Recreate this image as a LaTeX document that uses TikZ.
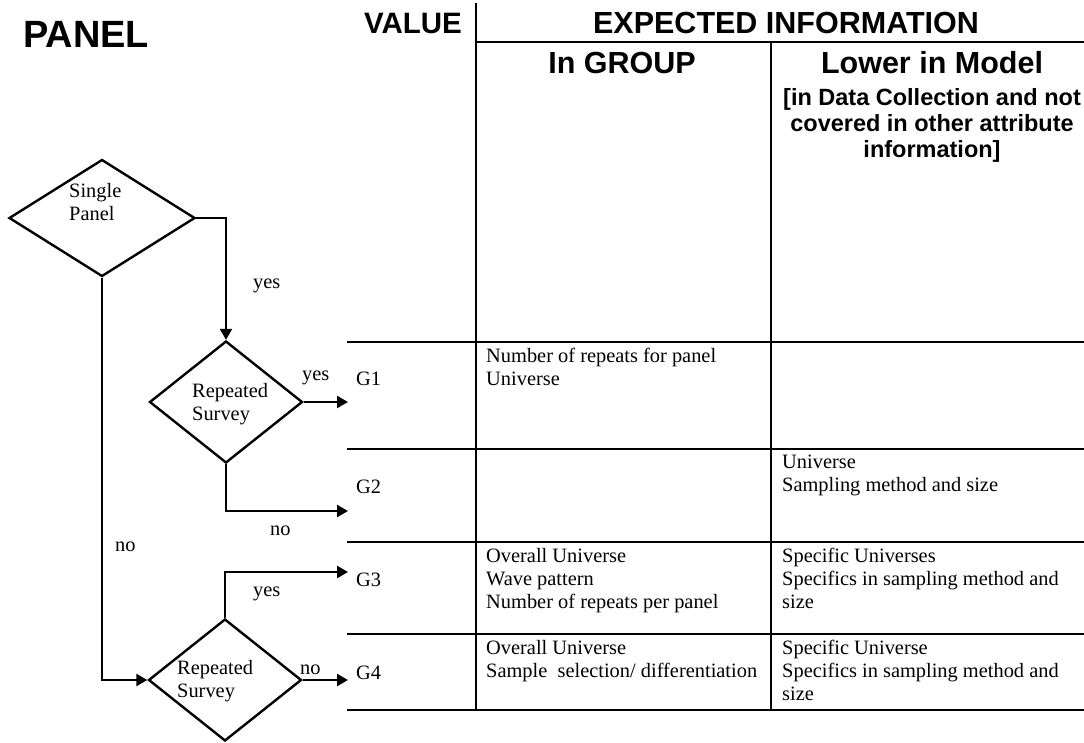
\documentclass[tikz,border=0pt]{standalone}
\usepackage{fontspec}
\setmainfont{Liberation Serif}
\newfontfamily\headfont{Liberation Sans}
\usetikzlibrary{shapes.geometric, arrows.meta, positioning}
\tikzset{
    dec/.style={diamond, draw, line width=2.4pt, inner sep=0pt, minimum width=153pt, minimum height=122pt},
    lbl/.style={anchor=base west, inner sep=0pt, font=\fontsize{20.4}{23}\selectfont},
    cell/.style={anchor=north west, inner sep=0pt, align=left, font=\fontsize{20.4}{23}\selectfont},
    head/.style={anchor=base, inner sep=0pt, font=\headfont\bfseries\fontsize{30.5}{34}\selectfont},
    arr/.style={-{Triangle[length=11pt, width=12pt]}, line width=2.4pt},
    heavy/.style={line width=2.4pt},
    light/.style={line width=1.5pt},
}

\begin{document}
\begin{tikzpicture}[x=1pt, y=-1pt]
\useasboundingbox (0,0) rectangle (1084,742);

% Headings
\node[head, anchor=base west, font=\headfont\bfseries\fontsize{38}{42}\selectfont] (panel) at (23,47) {PANEL};
\node[head, anchor=base east, font=\headfont\bfseries\fontsize{29.5}{33}\selectfont] (value) at (462,33) {VALUE};
\node[head] (expinfo) at (786,33) {EXPECTED INFORMATION};
\node[head] (ingroup) at (622,73) {In GROUP};
\node[head] (lower) at (932,73) {Lower in Model};
\node[head, anchor=north, align=center, font=\headfont\bfseries\fontsize{23.5}{26}\selectfont] (lowernote) at (932,88)
    {[in Data Collection and not\\covered in other attribute\\information]};

% Table rules
\draw[heavy] (476,3) -- (476,710);
\draw[light] (476,42) -- (1084,42);
\draw[heavy] (771,42) -- (771,710);
\draw[heavy] (347,342) -- (1084,342);
\draw[light] (347,449) -- (1084,449);
\draw[light] (347,542) -- (1084,542);
\draw[light] (347,634) -- (1084,634);
\draw[heavy] (347,710) -- (1084,710);

% Decisions
\node[dec, minimum width=186pt, minimum height=117pt] (single) at (102,218) {};
\node[dec] (rep1) at (226,402) {};
\node[dec] (rep2) at (225,680) {};
\node[cell] (singletxt) at (69,183) {Single\\Panel};
\node[cell] (rep1txt) at (192,383) {Repeated\\Survey};
\node[cell] (rep2txt) at (177,660) {Repeated\\Survey};

% Values
\node[lbl] (g1) at (356,385) {G1};
\node[lbl] (g2) at (356,493) {G2};
\node[lbl] (g3) at (356,586) {G3};
\node[lbl] (g4) at (356,679) {G4};
\coordinate (e1) at (348,402);
\coordinate (e2) at (348,511);
\coordinate (e3) at (348,572);
\coordinate (e4) at (348,680);

% Arrows
\draw[arr] (single.east) -| (rep1.north);
\draw[arr] (single.south) |- (rep2.west);
\draw[arr] (rep1.east) -- (e1);
\draw[arr] (rep1.south) |- (e2);
\draw[arr] (rep2.north) |- (e3);
\draw[arr] (rep2.east) -- (e4);

% Branch labels
\node[lbl] (yes1) at (253,288) {yes};
\node[lbl] (yes2) at (302,380) {yes};
\node[lbl] (no1) at (270,535) {no};
\node[lbl] (no2) at (115,551) {no};
\node[lbl] (yes3) at (253,596) {yes};
\node[lbl] (no3) at (300,674) {no};

% Cells
\node[cell] (c11) at (486,348) {Number of repeats for panel\\Universe};
\node[cell] (c22) at (782,455) {Universe\\Sampling method and size};
\node[cell] (c31) at (486,548) {Overall Universe\\Wave pattern\\Number of repeats per panel};
\node[cell] (c32) at (782,548) {Specific Universes\\Specifics in sampling method and\\size};
\node[cell] (c41) at (486,640) {Overall Universe\\Sample\ \ selection/ differentiation};
\node[cell] (c42) at (782,640) {Specific Universe\\Specifics in sampling method and\\size};

\end{tikzpicture}
\end{document}
